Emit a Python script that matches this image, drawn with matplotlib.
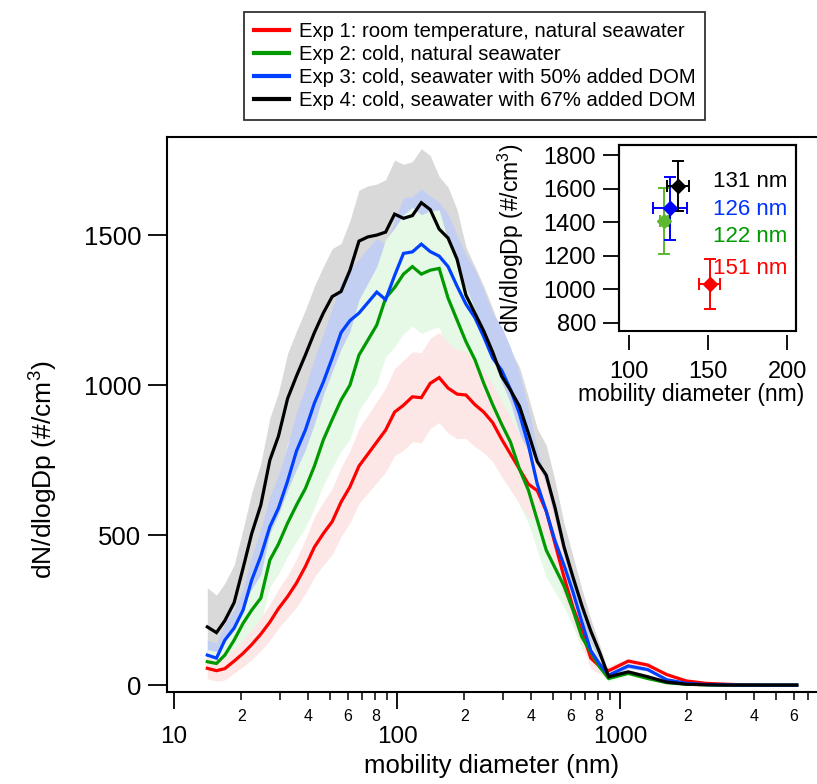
import numpy as np
import matplotlib
matplotlib.use("Agg")
import matplotlib.pyplot as plt
from matplotlib.ticker import FixedLocator, FuncFormatter, FixedFormatter
from matplotlib.patches import Rectangle

plt.rcParams['font.family'] = ['Liberation Sans', 'DejaVu Sans']
plt.rcParams['mathtext.fontset'] = 'custom'
plt.rcParams['mathtext.rm'] = 'Liberation Sans'
plt.rcParams['mathtext.it'] = 'Liberation Sans:italic'

# ---------------- data ----------------
diameter = [14.1, 15.5, 16.9, 18.6, 20.4, 22.3, 24.5, 26.9, 29.4, 32.3, 35.4, 38.8,
            42.6, 46.7, 51.2, 56.1, 61.5, 67.5, 74.0, 81.1, 88.9, 97.5, 106.9, 117.2,
            128.5, 140.9, 154.5, 169.4, 185.8, 203.7, 223.4, 244.9, 268.5, 294.4,
            322.8, 354.0, 388.2, 425.6, 466.7, 511.7, 561.0, 615.2, 674.5, 739.6,
            811.0, 889.3,
            1089, 1330, 1620, 1980, 2420, 2950, 3600, 4400, 5400, 6200]

exp1 = [56, 48, 55, 80, 106, 135, 170, 210, 255, 295, 340, 395, 460, 505, 545, 610,
        661, 730, 770, 810, 850, 910, 933, 961, 958, 1006, 1025, 990, 970, 967, 935,
        910, 875, 820, 770, 720, 670, 648, 580, 470, 360, 260, 180, 90, 62, 48,
        80, 67, 35, 14, 6, 3, 1, 0, 0, 0]
exp2 = [78, 72, 100, 150, 206, 250, 290, 417, 470, 540, 600, 655, 730, 817, 885, 950,
        1000, 1100, 1150, 1200, 1290, 1325, 1370, 1395, 1370, 1383, 1389, 1290, 1217,
        1145, 1085, 1006, 935, 870, 810, 720, 650, 550, 450, 390, 330, 250, 160, 110,
        60, 22,
        39, 22, 8, 3, 1, 0, 0, 0, 0, 0]
exp3 = [100, 90, 150, 190, 250, 350, 430, 528, 590, 680, 780, 850, 940, 1010, 1090,
        1175, 1215, 1240, 1275, 1310, 1285, 1365, 1439, 1444, 1470, 1445, 1430, 1395,
        1330, 1270, 1225, 1161, 1090, 1050, 985, 905, 800, 670, 580, 480, 400, 310,
        210, 115, 70, 33,
        64, 52, 18, 6, 2, 1, 0, 0, 0, 0]
exp4 = [194, 175, 215, 275, 390, 505, 600, 750, 830, 955, 1030, 1100, 1175, 1240,
        1295, 1312, 1383, 1480, 1494, 1500, 1510, 1570, 1556, 1565, 1608, 1585, 1520,
        1490, 1420, 1300, 1240, 1180, 1110, 1030, 983, 930, 840, 745, 700, 590, 460,
        360, 265, 180, 108, 28,
        44, 28, 10, 3, 1, 0, 0, 0, 0, 0]

sd1 = [35, 35, 38, 40, 45, 50, 55, 60, 65, 70, 80, 90, 100, 105, 110, 115, 120, 125,
       130, 135, 140, 145, 150, 150, 150, 150, 150, 150, 148, 145, 140, 135, 130, 125,
       120, 115, 110, 100, 90, 80, 70, 55, 45, 35, 25, 15,
       10, 8, 5, 3, 1, 0, 0, 0, 0, 0]
sd2 = [40, 40, 45, 50, 60, 70, 80, 90, 100, 110, 120, 130, 140, 150, 160, 170, 180,
       185, 190, 195, 195, 198, 198, 198, 198, 198, 195, 190, 185, 180, 170, 160, 150,
       140, 130, 120, 110, 100, 90, 80, 70, 55, 40, 30, 20, 10,
       6, 4, 3, 2, 1, 0, 0, 0, 0, 0]
sd3 = [50, 50, 55, 60, 70, 80, 90, 100, 110, 120, 130, 140, 150, 160, 165, 170, 175,
       180, 180, 180, 185, 185, 185, 185, 185, 185, 180, 175, 170, 165, 160, 155, 150,
       145, 140, 135, 125, 115, 100, 90, 80, 65, 50, 35, 20, 10,
       8, 6, 3, 2, 1, 0, 0, 0, 0, 0]
sd4 = [130, 125, 125, 125, 130, 135, 140, 140, 145, 150, 150, 150, 155, 155, 160, 160,
       165, 170, 170, 170, 175, 180, 180, 180, 180, 180, 175, 170, 165, 160, 155, 150,
       145, 140, 135, 130, 120, 110, 100, 90, 80, 70, 55, 40, 25, 12,
       8, 6, 4, 2, 1, 1, 0, 0, 0, 0]

labels = ["Exp 1: room temperature, natural seawater",
          "Exp 2: cold, natural seawater",
          "Exp 3: cold, seawater with 50% added DOM",
          "Exp 4: cold, seawater with 67% added DOM"]

# inset: mode diameter and peak concentration
mode_d = [151, 122, 126, 131]
mode_d_err = [6.6, 2.5, 10.8, 7.0]
peak_n = [1029, 1406, 1482, 1615]
peak_n_err = [150, 198, 190, 150]
mode_labels = ["151 nm", "122 nm", "126 nm", "131 nm"]

line_colors = ['#ff0000', '#009a00', '#0040ff', '#000000']
band_colors = ['#fde6e6', '#e6f8e6', '#c2cff2', '#d9d9d9']
inset_colors = ['#ff0000', '#5cb82e', '#0000ff', '#000000']
text_colors = ['#ff0000', '#009a00', '#0033ff', '#000000']

# ---------------- figure ----------------
W, H = 817, 784
fig = plt.figure(figsize=(W / 100, H / 100), dpi=100)

L, R, T, B = 167, 817, 137, 692
ax = fig.add_axes([L / W, (H - B) / H, (R - L) / W, (B - T) / H])

d = np.array(diameter, dtype=float)
series = [np.array(s, dtype=float) for s in (exp1, exp2, exp3, exp4)]
sds = [np.array(s, dtype=float) for s in (sd1, sd2, sd3, sd4)]

# bands: grey (exp4), blue (exp3), green (exp2), red (exp1)
for i in (3, 2, 1, 0):
    ax.fill_between(d, np.clip(series[i] - sds[i], 0, None), series[i] + sds[i],
                    color=band_colors[i], lw=0, zorder=1 + (3 - i) * 0.1)

handles = []
for i in (0, 1, 2, 3):
    h, = ax.plot(d, series[i], color=line_colors[i], lw=2.3, zorder=3 + i * 0.1,
                 solid_joinstyle='miter')
    handles.append(h)

ax.set_xscale('log')
ax.set_xlim(9.30, 7644)
ax.set_ylim(-23, 1827)
ax.set_yticks([0, 500, 1000, 1500])

ax.xaxis.set_major_locator(FixedLocator([10, 100, 1000]))
ax.xaxis.set_major_formatter(FixedFormatter(['10', '100', '1000']))
minor_pos = [m * dec for dec in (10, 100, 1000) for m in range(2, 10)]
ax.xaxis.set_minor_locator(FixedLocator(minor_pos))


def minor_fmt(x, pos):
    dec = 10 ** np.floor(np.log10(x) + 1e-9)
    m = int(round(x / dec))
    return str(m) if m in (2, 4, 6, 8) else ''


ax.xaxis.set_minor_formatter(FuncFormatter(minor_fmt))

for s in ax.spines.values():
    s.set_linewidth(1.5)
ax.spines['right'].set_visible(False)

ax.tick_params(axis='y', which='major', direction='out', length=13.7, width=1.3,
               labelsize=18.5, pad=5)
ax.tick_params(axis='x', which='major', direction='out', length=12.2, width=1.3,
               labelsize=17.5, pad=12.5)
ax.tick_params(axis='x', which='minor', direction='out', length=5.8, width=1.1,
               labelsize=11.5, pad=6.5)

ax.set_xlabel('mobility diameter (nm)', fontsize=18.5, labelpad=4)
ax.set_ylabel(r'dN/dlogDp (#/cm$^{\mathregular{3}}$)', fontsize=19)
ax.yaxis.set_label_coords(-0.165, 0.40)

# legend
leg = fig.legend(handles, labels, loc='upper center',
                 bbox_to_anchor=(474.5 / W, 1 - 12 / H),
                 fontsize=14.6, frameon=True, fancybox=False, edgecolor='black',
                 handlelength=1.72, handletextpad=0.5, borderpad=0.5,
                 labelspacing=0.2, borderaxespad=0)
leg.get_frame().set_linewidth(1.3)
for lh in leg.get_lines():
    lh.set_linewidth(3)

# ---------------- inset ----------------
iL, iR, iT, iB = 619, 796, 145, 331
ax2 = fig.add_axes([iL / W, (H - iB) / H, (iR - iL) / W, (iB - iT) / H])
ax2.set_facecolor('none')
for i in range(4):
    ax2.errorbar(mode_d[i], peak_n[i], xerr=mode_d_err[i], yerr=peak_n_err[i],
                 fmt='D', color=inset_colors[i], ms=7, capsize=4, elinewidth=1.4,
                 capthick=1.4, zorder=3)
ax2.set_xlim(93.5, 205.5)
ax2.set_ylim(750, 1860)
ax2.set_xticks([100, 150, 200])
ax2.set_yticks([800, 1000, 1200, 1400, 1600, 1800])
for s in ax2.spines.values():
    s.set_linewidth(1.5)
ax2.spines['bottom'].set_position(('outward', 3))
ax2.spines['bottom'].set_visible(False)
ax2.add_patch(Rectangle((0, 0), 1, 1, transform=ax2.transAxes, fill=False,
                        lw=1.5, edgecolor='black', clip_on=False, zorder=5))
ax2.tick_params(axis='y', direction='out', length=11.5, width=1.3, labelsize=17, pad=5)
ax2.tick_params(axis='x', direction='out', length=10.8, width=1.3, labelsize=17, pad=8)
ax2.set_xlabel('mobility diameter (nm)', fontsize=16.5)
ax2.xaxis.set_label_coords((691 - iL) / (iR - iL), -0.28)
ax2.set_ylabel(r'dN/dlogDp (#/cm$^{\mathregular{3}}$)', fontsize=16.5)
ax2.yaxis.set_label_coords(-0.525, 0.5)

text_y = [0.337, 0.507, 0.651, 0.803]
for i in range(4):
    ax2.text(0.949, text_y[i], mode_labels[i], transform=ax2.transAxes,
             color=text_colors[i], fontsize=16, ha='right', va='center')

fig.savefig('out.png', dpi=100, facecolor='white')
